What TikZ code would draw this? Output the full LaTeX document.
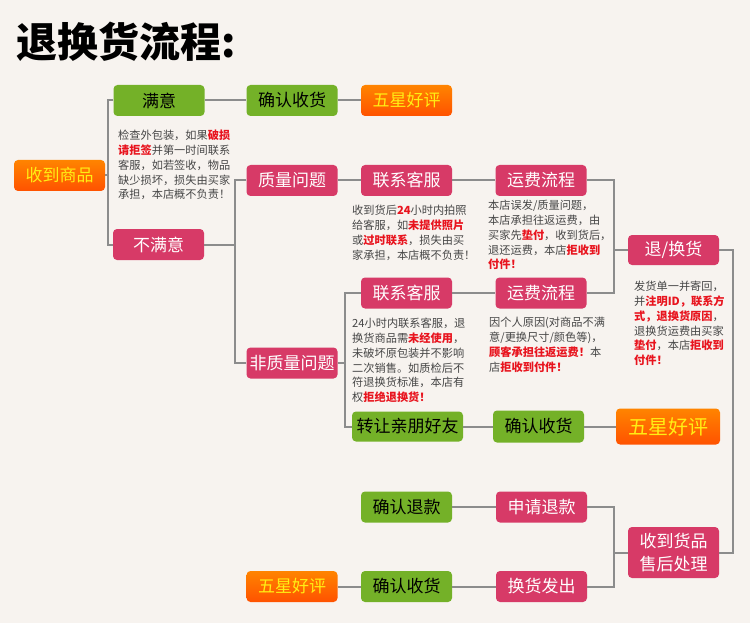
\documentclass[tikz,border=0pt]{standalone}
\usepackage{fontspec}
\setmainfont{Noto Sans CJK SC}
\definecolor{cbg}{RGB}{247,243,239}
\definecolor{cgreen}{RGB}{116,177,40}
\definecolor{cpink}{RGB}{215,58,103}
\definecolor{corgtop}{RGB}{255,132,0}
\definecolor{corgbot}{RGB}{255,82,0}
\definecolor{cyellow}{RGB}{255,238,20}
\definecolor{cline}{RGB}{140,140,140}
\definecolor{ctext}{RGB}{70,70,70}
\definecolor{hlred}{RGB}{232,20,30}
\newcommand{\hlr}[1]{{\color{hlred}\bfseries #1}}
\begin{document}
\begin{tikzpicture}[x=1pt,y=-1pt,
  box/.style={rounded corners=4pt, minimum width=91pt, minimum height=31pt, inner sep=0pt, font=\fontsize{17}{20}\selectfont},
  gbox/.style={box, fill=cgreen, text=black},
  pbox/.style={box, fill=cpink, text=white},
  obox/.style={box, top color=corgtop, bottom color=corgbot, text=cyellow},
  note/.style={anchor=north west, inner sep=0pt, align=left, text=ctext, font=\fontsize{11.2}{14.8}\selectfont},
  link/.style={draw=cline, line width=2pt}]
\useasboundingbox (0,0) rectangle (750,623);
\fill[cbg] (0,0) rectangle (750,623);

\node[anchor=west, inner sep=0pt, font=\fontsize{41}{45}\selectfont\bfseries] (title) at (16,42) {退换货流程:};

% boxes
\node[obox] (recv) at (59.5,175.5) {收到商品};
\node[gbox] (sat) at (159,100.5) {满意};
\node[gbox] (qr1) at (292,100.5) {确认收货};
\node[obox] (wx1) at (406.5,100.5) {五星好评};
\node[pbox] (unsat) at (158.5,244.5) {不满意};
\node[pbox] (qual) at (292,180.5) {质量问题};
\node[pbox] (kf1) at (406.5,180.5) {联系客服};
\node[pbox] (yf1) at (541,180.5) {运费流程};
\node[pbox, minimum height=30pt] (th) at (673.5,250) {退/换货};
\node[pbox] (kf2) at (406.5,293) {联系客服};
\node[pbox] (yf2) at (541,293) {运费流程};
\node[pbox] (nonq) at (292,363) {非质量问题};
\node[gbox, minimum width=111pt, minimum height=30pt] (zr) at (407.5,426.5) {转让亲朋好友};
\node[gbox, minimum height=32pt] (qr2) at (538.5,426.5) {确认收货};
\node[obox, minimum width=104pt, minimum height=36pt, font=\fontsize{20}{24}\selectfont] (wx2) at (668,426.5) {五星好评};
\node[pbox, minimum height=51pt, align=center, font=\fontsize{17}{23}\selectfont] (sh) at (673.5,552.5) {收到货品\\售后处理};
\node[gbox] (qrtk) at (406.5,507) {确认退款};
\node[pbox] (sqtk) at (541.5,507) {申请退款};
\node[obox] (wx3) at (292,586.5) {五星好评};
\node[gbox] (qr3) at (406.5,586.5) {确认收货};
\node[pbox] (hh) at (541.5,586.5) {换货发出};

% junctions
\coordinate (j1) at (108,175.5);
\coordinate (j2) at (235,244.5);
\coordinate (j3) at (613.5,250);
\coordinate (j4) at (345,363);
\coordinate (j5) at (733,400);
\coordinate (j6) at (614,552.5);

% connectors
\draw[link] (recv.east) -- (j1);
\draw[link] (sat.west) -| (j1) |- (unsat.west);
\draw[link] (sat.east) -- (qr1.west);
\draw[link] (qr1.east) -- (wx1.west);
\draw[link] (unsat.east) -- (j2);
\draw[link] (qual.west) -| (j2) |- (nonq.west);
\draw[link] (qual.east) -- (kf1.west);
\draw[link] (kf1.east) -- (yf1.west);
\draw[link] (yf1.east) -| (j3) |- (yf2.east);
\draw[link] (j3) -- (th.west);
\draw[link] (nonq.east) -- (j4);
\draw[link] (kf2.west) -| (j4) |- (zr.west);
\draw[link] (kf2.east) -- (yf2.west);
\draw[link] (zr.east) -- (qr2.west);
\draw[link] (qr2.east) -- (wx2.west);
\draw[link] (th.east) -| (j5) |- (sh.east);
\draw[link] (sh.west) -- (j6);
\draw[link] (sqtk.east) -| (j6) |- (hh.east);
\draw[link] (qrtk.east) -- (sqtk.west);
\draw[link] (wx3.east) -- (qr3.west);
\draw[link] (qr3.east) -- (hh.west);

% notes
\node[note] (n1) at (118,130) {检查外包装，如果\hlr{破损}\\\hlr{请拒签}并第一时间联系\\客服，如若签收，物品\\缺少损坏，损失由买家\\承担，本店概不负责！};
\node[note] (n2) at (352,205) {收到货后\hlr{24}小时内拍照\\给客服，如\hlr{未提供照片}\\或\hlr{过时联系}，损失由买\\家承担，本店概不负责！};
\node[note] (n3) at (488,200) {本店误发/质量问题，\\本店承担往返运费，由\\买家先\hlr{垫付}，收到货后，\\退还运费，本店\hlr{拒收到}\\\hlr{付件！}};
\node[note] (n4) at (634,281) {发货单一并寄回，\\并\hlr{注明ID，联系方}\\\hlr{式，退换货原因}，\\退换货运费由买家\\\hlr{垫付}，本店\hlr{拒收到}\\\hlr{付件！}};
\node[note] (n5) at (352,318) {24小时内联系客服，退\\换货商品需\hlr{未经使用}，\\未破坏原包装并不影响\\二次销售。如质检后不\\符退换货标准，本店有\\权\hlr{拒绝退换货！}};
\node[note] (n6) at (489,317) {因个人原因(对商品不满\\意/更换尺寸/颜色等)，\\\hlr{顾客承担往返运费！}本\\店\hlr{拒收到付件！}};
\end{tikzpicture}
\end{document}
